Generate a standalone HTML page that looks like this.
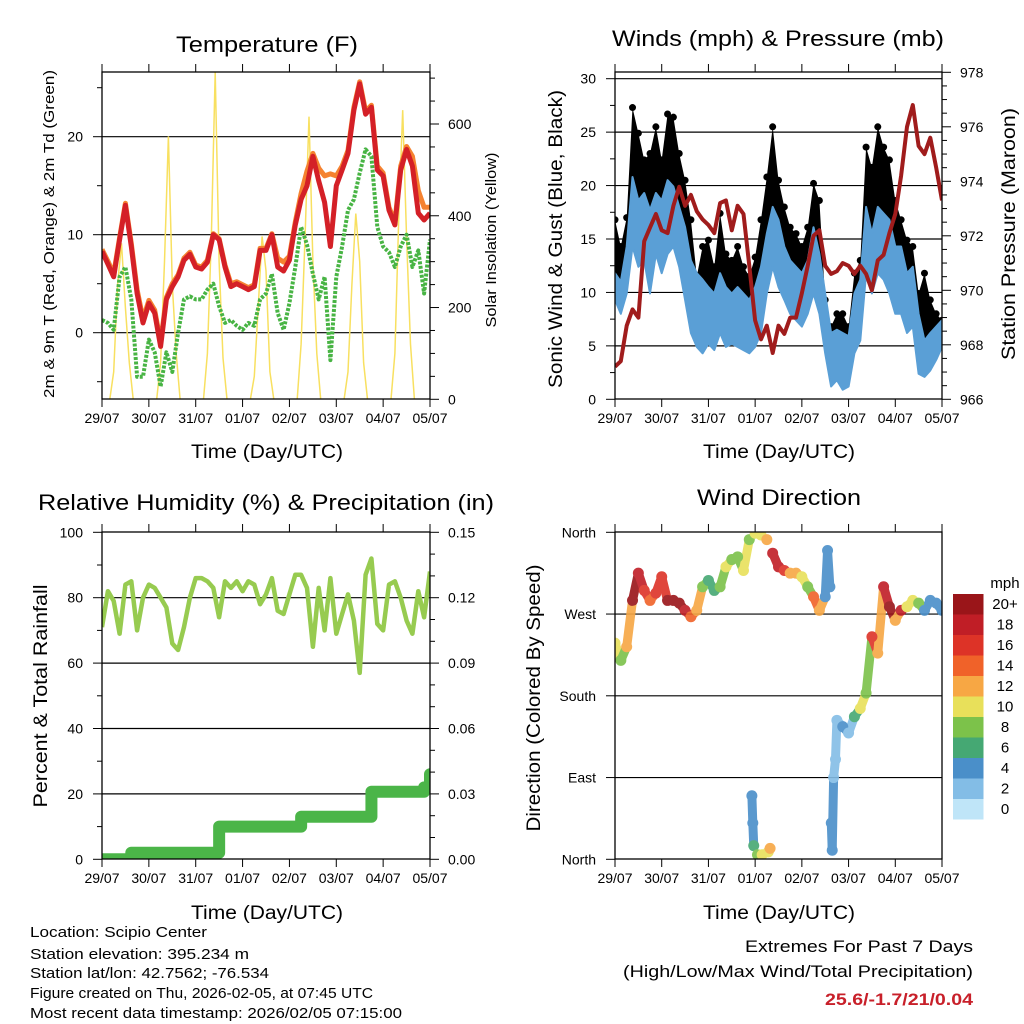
<!DOCTYPE html>
<html><head><meta charset="utf-8"><title>Station Meteogram</title>
<style>
html,body{margin:0;padding:0;background:#fff;}
svg{display:block;font-family:"Liberation Sans",Arial,sans-serif;}
</style></head>
<body>
<svg id="fig" width="1024" height="1024" viewBox="0 0 1024 1024" xmlns="http://www.w3.org/2000/svg">
<rect x="0" y="0" width="1024" height="1024" fill="#fff"/>
<text x="267" y="52" font-size="22" text-anchor="middle" textLength="182" lengthAdjust="spacingAndGlyphs">Temperature (F)</text>
<text x="778" y="46" font-size="22" text-anchor="middle" textLength="332" lengthAdjust="spacingAndGlyphs">Winds (mph) &amp; Pressure (mb)</text>
<text x="266" y="510" font-size="22" text-anchor="middle" textLength="456" lengthAdjust="spacingAndGlyphs">Relative Humidity (%) &amp; Precipitation (in)</text>
<text x="779" y="505" font-size="22" text-anchor="middle" textLength="164" lengthAdjust="spacingAndGlyphs">Wind Direction</text>

<text x="267" y="458" font-size="19" text-anchor="middle" textLength="152" lengthAdjust="spacingAndGlyphs">Time (Day/UTC)</text>
<text x="779" y="458" font-size="19" text-anchor="middle" textLength="152" lengthAdjust="spacingAndGlyphs">Time (Day/UTC)</text>
<text x="267" y="919" font-size="19" text-anchor="middle" textLength="152" lengthAdjust="spacingAndGlyphs">Time (Day/UTC)</text>
<text x="779" y="919" font-size="19" text-anchor="middle" textLength="152" lengthAdjust="spacingAndGlyphs">Time (Day/UTC)</text>

<text transform="translate(54,234) rotate(-90)" font-size="15" text-anchor="middle" textLength="328" lengthAdjust="spacingAndGlyphs">2m &amp; 9m T (Red, Orange) &amp; 2m Td (Green)</text>
<text transform="translate(496,240) rotate(-90)" font-size="15" text-anchor="middle" textLength="175" lengthAdjust="spacingAndGlyphs">Solar Insolation (Yellow)</text>
<text transform="translate(562,239) rotate(-90)" font-size="19" text-anchor="middle" textLength="298" lengthAdjust="spacingAndGlyphs">Sonic Wind &amp; Gust (Blue, Black)</text>
<text transform="translate(1015,234) rotate(-90)" font-size="19" text-anchor="middle" textLength="252" lengthAdjust="spacingAndGlyphs">Station Pressure (Maroon)</text>
<text transform="translate(47,696) rotate(-90)" font-size="19" text-anchor="middle" textLength="223" lengthAdjust="spacingAndGlyphs">Percent &amp; Total Rainfall</text>
<text transform="translate(540,698) rotate(-90)" font-size="19" text-anchor="middle" textLength="267" lengthAdjust="spacingAndGlyphs">Direction (Colored By Speed)</text>

<g font-size="15">
<text x="30" y="937" textLength="177" lengthAdjust="spacingAndGlyphs">Location: Scipio Center</text>
<text x="30" y="959" textLength="219" lengthAdjust="spacingAndGlyphs">Station elevation: 395.234 m</text>
<text x="30" y="978" textLength="239" lengthAdjust="spacingAndGlyphs">Station lat/lon: 42.7562; -76.534</text>
<text x="30" y="998" textLength="343" lengthAdjust="spacingAndGlyphs">Figure created on Thu, 2026-02-05, at 07:45 UTC</text>
<text x="30" y="1018" textLength="372" lengthAdjust="spacingAndGlyphs">Most recent data timestamp: 2026/02/05 07:15:00</text>
</g>
<text x="973" y="952" font-size="17" text-anchor="end" textLength="228" lengthAdjust="spacingAndGlyphs">Extremes For Past 7 Days</text>
<text x="973" y="977" font-size="17" text-anchor="end" textLength="350" lengthAdjust="spacingAndGlyphs">(High/Low/Max Wind/Total Precipitation)</text>
<text x="973" y="1005" font-size="17" font-weight="bold" fill="#c8202a" text-anchor="end" textLength="148" lengthAdjust="spacingAndGlyphs">25.6/-1.7/21/0.04</text>
<text x="1005" y="588" font-size="15" text-anchor="middle">mph</text>
</svg>
<script>
// ---------- data ----------
const dayLabels = ["29/07","30/07","31/07","01/07","02/07","03/07","04/07","05/07"];
// 3-hourly series (step 0.125 day)
const temp2m = [8.3,7.0,5.7,9.5,13,8.8,4,1,3,2,-1.4,3.4,4.7,5.7,7.4,8,6.7,6.5,7.2,10,9.5,6.7,4.7,5,4.7,4.4,4.7,8.4,8.4,10,6.7,6.3,7.4,11,13.6,15,18,15.5,13.3,8.8,15,16.6,18.3,22.7,25.4,22.3,23,16.6,16,12.5,11,16.6,18.7,17,12.2,11.5,12.2];
const temp9m = [8.5,7.3,6.0,9.7,13.2,9.1,4.4,1.4,3.3,2.3,-1.0,3.6,5.0,5.9,7.6,8.2,6.9,6.7,7.4,10.1,9.6,6.9,5.0,5.2,4.9,4.6,4.9,8.6,8.6,10.1,7.6,7.2,7.8,11.3,14.2,16.5,18.3,16.8,16.0,16.2,16.0,17.0,18.6,23.0,25.6,22.6,23.2,17.0,16.3,12.8,11.3,17.0,19.0,18.0,14.5,12.8,12.8];
const dewPoint = [1.3,1,0.3,5.7,6.7,3.4,-4.5,-4.5,-0.7,-2,-5.5,-2,-4,0,3.4,3.7,3.4,3.4,4.4,5,2.7,1,1.3,0.7,0.3,1,0.7,3.4,4,6,2,0.3,3,6.7,10.8,9,6,3.4,5.7,-2.8,5.7,8.8,12.5,13.6,16.3,18.7,18,10.8,8.8,8.2,6.7,8.8,10,6.7,8.4,4,9.5];
// 2-hourly solar insolation
const solar = [0,0,0,60,250,340,200,80,0,0,0,0, 0,0,0,80,300,573,250,100,0,0,0,0, 0,0,0,100,350,713,300,90,0,0,0,0, 0,0,0,50,200,355,280,60,0,0,0,0, 0,0,0,120,350,616,300,100,0,0,0,0, 0,0,0,60,250,405,300,80,0,0,0,0, 0,0,0,100,400,630,350,120,0,0,0,0, 0];
const pressure = [967.2,967.4,968.7,969.3,969.0,971.8,972.3,972.8,972.2,972.1,973.1,973.8,973.1,973.5,972.9,972.6,972.4,972.1,973.2,973.3,972.2,973.1,972.8,970.9,968.9,968.2,968.7,967.7,968.7,968.4,969.0,969.0,969.9,970.9,972.0,972.2,970.9,970.6,970.7,971.0,970.9,970.6,970.9,970.6,970.0,971.1,971.3,972.1,972.8,974.2,976.0,976.8,975.3,975.0,975.6,974.5,973.3];
const windLow = [9.3,8,9.9,14.3,12.4,13,9.9,13.6,11.8,13.6,14.3,12.4,9.3,6.2,4.9,4.3,5.2,4.6,6.2,4.9,5.2,4.9,4.6,4.3,4.9,6.2,9.9,12.4,10.5,9.3,8,7.4,6.8,8,9.9,8,4.3,1.2,1.8,0.9,1.2,4.3,5.5,11.8,9.9,11.8,11.2,9.9,8,8,6.2,6.8,2.4,2.1,2.7,3.7,4.9];
const windHigh = [11.8,11,14.3,20.8,18.6,19.3,17.7,19.3,18.6,20.5,19.9,18,16.1,13,11.8,11.2,10.5,9.9,11.8,10.5,9.9,10.5,9.9,9.3,10.5,12.4,15.5,18,16.8,14.3,13,12.4,11.8,13,16.1,13.6,9.9,6.2,6.5,6.2,5.9,9.9,11.2,18,15.5,18,17.4,16.8,14.3,14.3,11.8,12.4,8,5.5,6.2,6.8,7.4];
const gust = [16.8,14.3,17,27.3,24.9,22.4,23,25.5,22.4,26.7,26.4,23,20.5,16.8,11.5,14.3,14.9,12.4,17.4,13.6,13,14.3,12.4,11.5,13.3,16.8,20.8,25.5,20.5,18,16.1,15.5,14.3,16.1,20.2,18.6,9.3,6.8,8,8,6.8,11.8,13,23.6,21.7,25.5,23.6,22.4,18.6,16.8,14.9,14.3,9.9,11.8,9.3,8,7.4];
const humidity = [71,82,79,69,84,85,70,80,84,83,80,77,66,64,71,80,86,86,85,83,74,85,83,85,82,85,84,78,81,86,76,75,81,87,87,83,65,83,70,86,69,75,81,73,57,87,92,72,70,84,85,80,73,69,82,74,88];
const precip = [0,0,0,0,0,0.003,0.003,0.003,0.003,0.003,0.003,0.003,0.003,0.003,0.003,0.003,0.003,0.003,0.003,0.003,0.015,0.015,0.015,0.015,0.015,0.015,0.015,0.015,0.015,0.015,0.015,0.015,0.015,0.015,0.0195,0.0195,0.0195,0.0195,0.0195,0.0195,0.0195,0.0195,0.0195,0.0195,0.0195,0.0195,0.031,0.031,0.031,0.031,0.031,0.031,0.031,0.031,0.031,0.033,0.039];
const dirTimes = [0,0.125,0.25,0.375,0.5,0.625,0.75,0.875,1,1.125,1.25,1.375,1.5,1.625,1.75,1.875,2,2.125,2.25,2.375,2.5,2.625,2.75,2.875,2.93,2.95,2.97,3,3.05,3.125,3.15,3.25,3.28,3.32,3.375,3.5,3.625,3.75,3.875,4,4.125,4.25,4.375,4.5,4.55,4.6,4.63,4.65,4.68,4.72,4.75,4.875,5,5.125,5.25,5.375,5.5,5.625,5.75,5.875,6,6.125,6.25,6.375,6.5,6.625,6.75,6.875,7];
const dirDeg = [238,219,234,285,315,296,285,293,311,285,285,282,274,267,274,300,307,296,300,322,330,333,318,352,70,40,15,359,5,357,5,352,8,12,337,322,318,315,315,311,300,289,274,289,340,300,40,10,90,110,153,146,139,157,166,183,245,227,300,278,263,274,278,285,282,274,285,282,274];
const dirSpeed = [9,7,12,19,17,15,14,15,16,19,20,19,18,14,12,8,6,5,7,9,7,8,10,8,4,4,6,9,8,10,9,12,10,12,18,17,15,12,11,9,8,14,12,4,4,4,3,4,2,1,2,3,2,5,9,7,15,12,17,19,12,17,9,10,8,3,4,4,4];
const speedLabels = ["20+","18","16","14","12","10","8","6","4","2","0"];
const speedColors = ["#9a1519","#c01e26","#dd3327","#f06229","#f7a744","#e8e05a","#7cc24a","#45a873","#4a8fc9","#83bde6","#bfe5f8"];
const dirLabels = ["North","East","South","West","North"];

// ---------- helpers ----------
const NS = "http://www.w3.org/2000/svg";
const svg = document.getElementById('fig');
function mk(tag, attrs, parent){
  const e = document.createElementNS(NS, tag);
  for (const k in attrs) e.setAttribute(k, attrs[k]);
  (parent || svg).appendChild(e);
  return e;
}
function lin(d0,d1,r0,r1){ return v => r0 + (v-d0)/(d1-d0)*(r1-r0); }

const P1 = {x0:102,x1:430,y0:72,y1:399};
const P2 = {x0:615,x1:942,y0:72,y1:399};
const P3 = {x0:102,x1:430,y0:532,y1:859};
const P4 = {x0:615,x1:942,y0:532,y1:859};

function grid(P, vals, yf, name){
  vals.forEach(v => {
    const l = mk('line',{x1:P.x0,x2:P.x1,y1:yf(v),y2:yf(v),stroke:'#000','stroke-width':1.2});
    
    
  });
}
function frameAndX(P, xf, name){
  dayLabels.forEach((lab,i) => {
    const x = xf(i);
    const t1 = mk('line',{x1:x,x2:x,y1:P.y1,y2:P.y1+8,stroke:'#000','stroke-width':1});
    
    
    const t2 = mk('line',{x1:x,x2:x,y1:P.y0,y2:P.y0-8,stroke:'#000','stroke-width':1});
    
    
    const tx = mk('text',{x:x,y:P.y1+24,'font-size':14,'text-anchor':'middle'});
    tx.textContent = lab;
    
    
  });
  const r = mk('rect',{x:P.x0,y:P.y0,width:P.x1-P.x0,height:P.y1-P.y0,fill:'none',stroke:'#000','stroke-width':1.3});
  
  
}
function yTicks(P, side, majors, labels, minors, yf, name){
  const x = side==='left' ? P.x0 : P.x1, s = side==='left' ? -1 : 1;
  minors.forEach(v => {
    const l = mk('line',{x1:x,x2:x+s*5,y1:yf(v),y2:yf(v),stroke:'#000','stroke-width':1});
    
    
  });
  majors.forEach((v,i) => {
    const l = mk('line',{x1:x,x2:x+s*9,y1:yf(v),y2:yf(v),stroke:'#000','stroke-width':1});
    
    
    const t = mk('text',{x:x+s*(side==='left'?19:18),y:yf(v)+5,'font-size':14,'text-anchor':side==='left'?'end':'start'});
    t.textContent = labels[i];
    
    
  });
}
function pathFrom(xs, ys){ return xs.map((x,i)=>(i?'L':'M')+x.toFixed(1)+','+ys[i].toFixed(1)).join(''); }
function clip(P, id){
  const defs = mk('defs',{});
  const cp = mk('clipPath',{id:id},defs);
  mk('rect',{x:P.x0,y:P.y0,width:P.x1-P.x0,height:P.y1-P.y0},cp);
  return 'url(#'+id+')';
}

// ---------- Panel 1: temperature ----------
{
  const xf = lin(0,7,P1.x0,P1.x1), yf = lin(0,10,332.7,234.7), ys = lin(0,600,399.3,124);
  const tempTicks = [0,10,20], tempLabels = ["0","10","20"];
  const solarTicks = [0,200,400,600], solarLabels = ["0","200","400","600"];
  grid(P1, tempTicks, yf, 'temperature-grid-line');
  const g = mk('g',{'clip-path':clip(P1,'c1')});
  
  
  const sol = mk('path',{d:pathFrom(solar.map((v,i)=>xf(i/12)), solar.map(ys)),fill:'none',stroke:'#f8e060','stroke-width':1.5},g);
  
  
  const tx = temp2m.map((v,i)=>xf(i/8));
  const dp = mk('path',{d:pathFrom(tx, dewPoint.map(yf)),fill:'none',stroke:'#48b444','stroke-width':4,'stroke-dasharray':'3 1.5','stroke-linejoin':'round'},g);
  
  
  const o = mk('path',{d:pathFrom(tx, temp9m.map(yf)),fill:'none',stroke:'#f58230','stroke-width':5,'stroke-linejoin':'round'},g);
  
  
  const r = mk('path',{d:pathFrom(tx, temp2m.map(yf)),fill:'none',stroke:'#d42027','stroke-width':5,'stroke-linejoin':'round'},g);
  
  
  frameAndX(P1, xf, 'temperature');
  yTicks(P1,'left',tempTicks,tempLabels,[-5,5,15,25],yf,'temperature-y');
  yTicks(P1,'right',solarTicks,solarLabels,[50,100,150,250,300,350,450,500,550,650,700],ys,'solar-y');
}

// ---------- Panel 2: winds ----------
{
  const xf = lin(0,7,P2.x0,P2.x1), yf = lin(0,30,399.3,78.7), yp = lin(966,978,399.3,72.3);
  const windTicks = [0,5,10,15,20,25,30], windLabels = ["0","5","10","15","20","25","30"];
  const presTicks = [966,968,970,972,974,976,978], presLabels = ["966","968","970","972","974","976","978"];
  grid(P2, [5,10,15,20,25,30], yf, 'winds-grid-line');
  const g = mk('g',{'clip-path':clip(P2,'c2')});
  
  
  const tx = gust.map((v,i)=>xf(i/8));
  const topY = gust.map(yf), lowY = windHigh.map(yf);
  const blk = mk('path',{d:pathFrom(tx,topY)+pathFrom(tx.slice().reverse(),lowY.slice().reverse()).replace('M','L')+'Z',fill:'#000','stroke':'none'},g);
  
  
  gust.forEach((v,i)=>{
    const c = mk('circle',{cx:tx[i],cy:yf(v),r:3.5,fill:'#000'},g);
    
    
  });
  const blu = mk('path',{d:pathFrom(tx,windHigh.map(yf))+pathFrom(tx.slice().reverse(),windLow.map(yf).reverse()).replace('M','L')+'Z',fill:'#5a9fd6',stroke:'#5a9fd6','stroke-width':2,'stroke-linejoin':'round'},g);
  
  
  const pr = mk('path',{d:pathFrom(pressure.map((v,i)=>xf(i/8)),pressure.map(yp)),fill:'none',stroke:'#a01c1c','stroke-width':4,'stroke-linejoin':'round'},g);
  
  
  frameAndX(P2, xf, 'winds');
  yTicks(P2,'left',windTicks,windLabels,[2.5,7.5,12.5,17.5,22.5,27.5],yf,'wind-y');
  const pm=[]; for(let v=966.5; v<978; v+=0.5){ if(v%2) pm.push(v); }
  yTicks(P2,'right',presTicks,presLabels,pm,yp,'pressure-y');
}

// ---------- Panel 3: humidity ----------
{
  const xf = lin(0,7,P3.x0,P3.x1), yf = lin(0,100,859.3,532.3), yr = lin(0,0.15,859.3,532.3);
  const rhTicks = [0,20,40,60,80,100], rhLabels = ["0","20","40","60","80","100"];
  const prTicks = [0,0.03,0.06,0.09,0.12,0.15], prLabels = ["0.00","0.03","0.06","0.09","0.12","0.15"];
  grid(P3, [20,40,60,80], yf, 'humidity-grid-line');
  const g = mk('g',{'clip-path':clip(P3,'c3')});
  
  
  const tx = humidity.map((v,i)=>xf(i/8));
  const rh = mk('path',{d:pathFrom(tx,humidity.map(yf)),fill:'none',stroke:'#97cb50','stroke-width':4.5,'stroke-linejoin':'round'},g);
  
  
  let d=''; precip.forEach((v,i)=>{ const x=xf(i/8), y=yr(v); if(!i) d+='M'+x+','+y; else d+='L'+x+','+yr(precip[i-1])+'L'+x+','+y; });
  const pp = mk('path',{d:d,fill:'none',stroke:'#4bb548','stroke-width':12,'stroke-linecap':'round','stroke-linejoin':'round'},g);
  
  
  frameAndX(P3, xf, 'humidity');
  yTicks(P3,'left',rhTicks,rhLabels,[10,30,50,70,90],yf,'humidity-y');
  yTicks(P3,'right',prTicks,prLabels,[0.01,0.02,0.04,0.05,0.07,0.08,0.1,0.11,0.13,0.14],yr,'precip-y');
}

// ---------- Panel 4: wind direction ----------
{
  const xf = lin(0,7,P4.x0,P4.x1), yf = lin(0,360,859.3,532.3);
  const dirTicks = [0,90,180,270,360];
  grid(P4, [90,180,270], yf, 'direction-grid-line');
  const col = s => speedColors[10 - Math.min(10, Math.round(s/2))];
  const g = mk('g',{'clip-path':clip(P4,'c4'),opacity:0.9});
  
  
  for(let i=1;i<dirDeg.length;i++){
    if(dirTimes[i]-dirTimes[i-1] <= 0.13 && Math.abs(dirDeg[i]-dirDeg[i-1]) < 90){
      const s = mk('line',{x1:xf(dirTimes[i-1]),y1:yf(dirDeg[i-1]),x2:xf(dirTimes[i]),y2:yf(dirDeg[i]),stroke:col(dirSpeed[i-1]),'stroke-width':9,'stroke-linecap':'round'},g);
      
      
    }
  }
  dirDeg.forEach((v,i)=>{
    const c = mk('circle',{cx:xf(dirTimes[i]),cy:yf(v),r:5.5,fill:col(dirSpeed[i])},g);
    
    
  });
  frameAndX(P4, xf, 'direction');
  yTicks(P4,'left',dirTicks,dirLabels,[],yf,'direction-y');
  // colorbar
  speedLabels.forEach((lab,i)=>{
    const y = 594 + i*20.5;
    const r = mk('rect',{x:953,y:y,width:30.5,height:20.5,fill:speedColors[i]});
    
    
    const t = mk('text',{x:1005,y:y+15,'font-size':15,'text-anchor':'middle'});
    t.textContent = lab;
    
    
  });
}
</script>
</body></html>
